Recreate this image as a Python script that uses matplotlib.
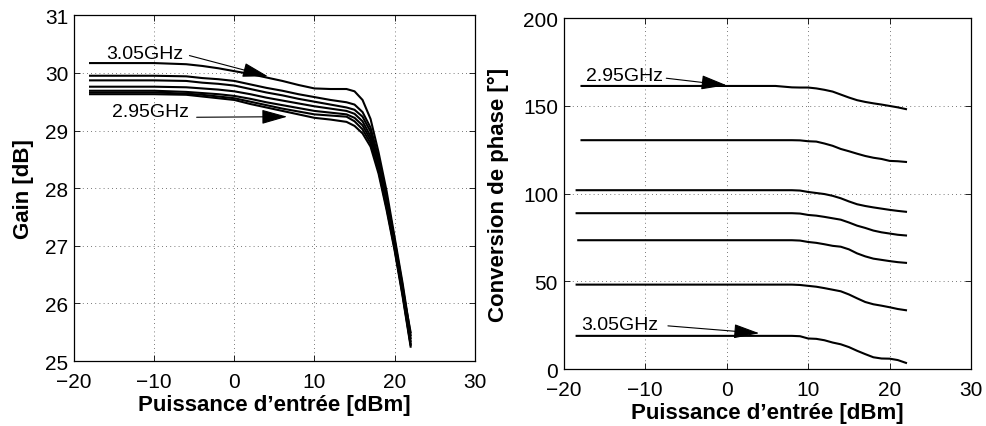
import numpy as np
import matplotlib
matplotlib.use("Agg")
import matplotlib.pyplot as plt

plt.rcParams['font.family'] = ['Liberation Sans', 'DejaVu Sans']

# gain curves vs input power, 3.05GHz (top) down to 2.95GHz (bottom)
pin_gain = [-18, -14, -10, -6, -4, -2, 0, 2, 4, 6, 8, 10, 12, 14,
            15, 16, 17, 18, 19, 20, 21, 22]
gain_curves = [
    [30.17, 30.17, 30.17, 30.15, 30.12, 30.08, 30.03, 29.98, 29.92, 29.86, 29.79, 29.73, 29.72, 29.72,
     29.68, 29.53, 29.20, 28.62, 27.95, 27.15, 26.35, 25.45],
    [29.95, 29.95, 29.95, 29.94, 29.91, 29.89, 29.86, 29.80, 29.74, 29.69, 29.63, 29.58, 29.53, 29.49,
     29.45, 29.32, 29.05, 28.52, 27.86, 27.10, 26.30, 25.40],
    [29.87, 29.87, 29.87, 29.86, 29.83, 29.81, 29.78, 29.72, 29.66, 29.61, 29.55, 29.50, 29.45, 29.40,
     29.36, 29.24, 28.98, 28.46, 27.80, 27.06, 26.25, 25.50],
    [29.76, 29.76, 29.76, 29.75, 29.73, 29.71, 29.68, 29.63, 29.57, 29.52, 29.47, 29.42, 29.38, 29.34,
     29.29, 29.16, 28.90, 28.40, 27.75, 27.02, 26.20, 25.35],
    [29.69, 29.69, 29.69, 29.67, 29.65, 29.63, 29.60, 29.55, 29.49, 29.44, 29.39, 29.34, 29.31, 29.28,
     29.22, 29.09, 28.84, 28.35, 27.70, 26.98, 26.18, 25.30],
    [29.66, 29.66, 29.66, 29.64, 29.62, 29.59, 29.56, 29.50, 29.44, 29.38, 29.33, 29.28, 29.26, 29.24,
     29.16, 29.02, 28.78, 28.30, 27.66, 26.95, 26.15, 25.28],
    [29.63, 29.63, 29.63, 29.62, 29.59, 29.56, 29.53, 29.46, 29.40, 29.34, 29.28, 29.22, 29.19, 29.15,
     29.08, 28.95, 28.72, 28.25, 27.62, 26.92, 26.12, 25.25],
]

# phase conversion curves, 2.95GHz (top) down to 3.05GHz (bottom)
pin_phase = [-18, -14, -10, -6, -2, 2, 6, 8, 9, 10, 11, 12, 13, 14, 15, 16, 17, 18, 19, 20, 21, 22]
phase_curves = [
    [161.4, 161.4, 161.4, 161.4, 161.4, 161.4, 161.4, 160.6, 160.5, 160.5, 160.0, 159.2, 158.2, 156.5,
     154.8, 153.3, 152.3, 151.5, 150.8, 150.0, 149.2, 148.2],
    [130.5, 130.5, 130.5, 130.5, 130.5, 130.5, 130.5, 130.5, 130.4, 129.9, 129.7, 128.6, 127.3, 125.5,
     124.2, 122.8, 121.5, 120.5, 119.8, 118.7, 118.5, 118.1],
    [102.0, 102.0, 102.0, 102.0, 102.0, 102.0, 102.0, 102.0, 101.8, 101.0, 100.4, 99.8, 98.8, 97.4,
     95.6, 94.0, 93.0, 92.2, 91.5, 90.8, 90.2, 89.7],
    [88.9, 88.9, 88.9, 88.9, 88.9, 88.9, 88.9, 88.9, 88.7, 87.9, 87.5, 86.8, 86.0, 85.2,
     83.6, 81.8, 80.5, 79.0, 78.0, 77.3, 76.6, 76.2],
    [73.5, 73.5, 73.5, 73.5, 73.5, 73.5, 73.5, 73.5, 73.3, 72.5, 72.0, 71.2, 70.3, 69.8,
     68.3, 66.0, 64.3, 63.0, 62.3, 61.6, 61.0, 60.6],
    [48.2, 48.2, 48.2, 48.2, 48.2, 48.2, 48.2, 48.2, 48.0, 47.5, 47.0, 46.2, 45.3, 44.4,
     42.6, 40.4, 38.3, 37.0, 36.2, 35.3, 34.3, 33.6],
    [19.0, 19.0, 19.0, 19.0, 19.0, 19.0, 19.0, 19.0, 18.8, 17.5, 17.3, 16.5, 15.2, 14.2,
     12.6, 10.5, 8.6, 6.8, 6.1, 6.0, 5.2, 3.6],
]
phase_start = [-17.8, -17.8, -18.4, -18.4, -18.2, -18.4, -18.4]

xticks = [-20, -10, 0, 10, 20, 30]
gain_ticks = [25, 26, 27, 28, 29, 30, 31]
phase_ticks = [0, 50, 100, 150, 200]

fig = plt.figure(figsize=(9.87, 4.27), dpi=100)
ax1 = fig.add_axes([0.075, 0.152, 0.406, 0.810])
ax2 = fig.add_axes([0.571, 0.133, 0.413, 0.822])

for g in gain_curves:
    ax1.plot(pin_gain, g, color='k', lw=1.5)

for p, x0 in zip(phase_curves, phase_start):
    xs = [x0] + pin_phase[1:]
    ax2.plot(xs, p, color='k', lw=1.5)

arrow = dict(arrowstyle='-|>,head_length=1.6,head_width=0.45', color='k', lw=0.8,
             shrinkA=0, shrinkB=0)

ax1.annotate('', xy=(4.2, 29.94), xytext=(-5.6, 30.30), arrowprops=arrow)
ax1.text(-16.0, 30.34, '3.05GHz', fontsize=14, va='center', ha='left')
ax1.annotate('', xy=(6.6, 29.24), xytext=(-4.7, 29.23), arrowprops=arrow)
ax1.text(-15.3, 29.33, '2.95GHz', fontsize=14, va='center', ha='left')

ax2.annotate('', xy=(0.0, 161.8), xytext=(-7.4, 165.8), arrowprops=arrow)
ax2.text(-17.2, 167.5, '2.95GHz', fontsize=14, va='center', ha='left')
ax2.annotate('', xy=(4.0, 20.5), xytext=(-7.2, 24.7), arrowprops=arrow)
ax2.text(-17.8, 25.5, '3.05GHz', fontsize=14, va='center', ha='left')

for ax, yt in ((ax1, gain_ticks), (ax2, phase_ticks)):
    ax.set_xlim(-20, 30)
    ax.set_ylim(yt[0], yt[-1])
    ax.set_xticks(xticks)
    ax.set_yticks(yt)
    ax.set_xticklabels([str(t).replace('-', '\u2212') for t in xticks])
    ax.tick_params(direction='in', top=True, right=True, labelsize=15, length=4, width=0.6)
    ax.tick_params(axis='x', pad=8)
    ax.tick_params(axis='y', pad=4)
    ax.grid(True, linestyle=(0, (1, 4)), color='k', lw=0.6, alpha=0.7)
    for s in ax.spines.values():
        s.set_linewidth(0.9)
    ax.set_xlabel("Puissance d\u2019entrée [dBm]", fontsize=16, fontweight='bold', labelpad=2)

ax1.set_ylabel('Gain [dB]', fontsize=16, fontweight='bold', labelpad=8)
ax2.set_ylabel('Conversion de phase [°]', fontsize=16, fontweight='bold', labelpad=10)

fig.savefig('out.png', dpi=100)
